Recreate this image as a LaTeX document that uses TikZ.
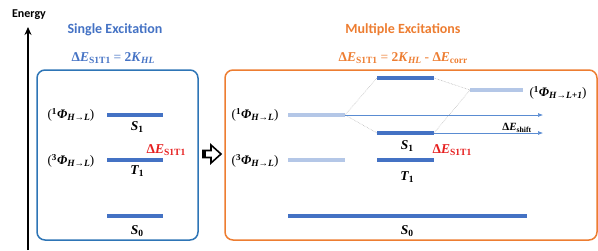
\documentclass[tikz,border=0pt]{standalone}
\usepackage{fontspec}
\setmainfont{Liberation Serif}
\newfontfamily\headfont{Carlito}
\usetikzlibrary{arrows.meta}

\definecolor{boxblue}{RGB}{46,117,182}
\definecolor{headblue}{RGB}{68,114,196}
\definecolor{orbblue}{RGB}{68,114,196}
\definecolor{pureblue}{RGB}{180,199,231}
\definecolor{boxorange}{RGB}{237,125,49}
\definecolor{gapred}{RGB}{230,30,30}
\definecolor{shiftblue}{RGB}{90,140,210}

\newcommand{\lowsub}[1]{\raisebox{-0.35ex}{\fontsize{9.5}{10}\selectfont #1}}
\newcommand{\dEn}[1]{\textbf{Δ\textit{E}\lowsub{#1}}}
\newcommand{\phiex}[2]{(\textsuperscript{\textbf{#1}}\textbf{\textit{Φ}\lowsub{\textit{#2}}})}
\newcommand{\stname}[2]{\textbf{\textit{#1}\lowsub{#2}}}

\begin{document}
\begin{tikzpicture}[
  x=1pt, y=-1pt,
  >=Latex,
  every node/.style={font=\fontsize{13}{15}\selectfont},
  heading/.style={font=\headfont\bfseries\fontsize{14}{16}\selectfont},
  panel/.style={line width=1.5pt, rounded corners=8pt},
  orbline/.style={line width=3.5pt, orbblue},
  pureline/.style={line width=3.5pt, pureblue},
  mixline/.style={densely dotted, line width=0.5pt, gray!70},
  shiftarrow/.style={-{Latex[length=5pt,width=4pt]}, line width=0.6pt, shiftblue},
  stlab/.style={font=\fontsize{13.5}{15}\selectfont},
  gap/.style={text=gapred, font=\fontsize{13.5}{15}\selectfont},
]
  \useasboundingbox (0,0) rectangle (598,250);

  % energy axis
  \node[font=\headfont\bfseries\fontsize{12}{14}\selectfont] (energy) at (29,15) {Energy};
  \coordinate (axisbase) at (28,250);
  \coordinate (axistop) at (28,27);
  \draw[line width=1.5pt, -{Stealth[length=8pt,width=7pt]}] (axisbase) -- (axistop);

  % single excitation panel
  \node[heading, text=headblue] (single) at (115,30) {Single Excitation};
  \node[text=headblue, font=\fontsize{13.5}{15}\selectfont] (singleeq) at (113,58)
    {\dEn{S1T1} = \textbf{2\textit{K}\lowsub{\textit{HL}}}};
  \draw[panel, boxblue] (37,70) rectangle (198,240);

  \draw[orbline] (107,115) -- (163,115);
  \draw[orbline] (107,160) -- (163,160);
  \draw[orbline] (107,216) -- (163,216);
  \node (singphi) at (71,115) {\phiex{1}{H→L}};
  \node (tripphi) at (71,161) {\phiex{3}{H→L}};
  \node[stlab] (sS1) at (137,127) {\stname{S}{1}};
  \node[stlab] (sT1) at (137,171) {\stname{T}{1}};
  \node[stlab] (sS0) at (137,231) {\stname{S}{0}};
  \node[gap] (sgap) at (166,150) {\dEn{S1T1}};

  % hollow block arrow
  \draw[line width=1.6pt, fill=white, line join=miter]
    (203,150.5) -- (211,150.5) -- (211,145) -- (221,154) -- (211,163)
    -- (211,157.5) -- (203,157.5) -- cycle;
  \fill (202,150) rectangle (206,158);

  % multiple excitations panel
  \node[heading, text=boxorange] (multi) at (403,30) {Multiple Excitations};
  \node[text=boxorange, font=\fontsize{13.5}{15}\selectfont] (multieq) at (403,58)
    {\dEn{S1T1} = \textbf{2\textit{K}\lowsub{\textit{HL}}} - \dEn{corr}};
  \draw[panel, boxorange] (225,70) rectangle (597,240);

  \coordinate (phiR) at (345,115);
  \coordinate (upL) at (377,78);
  \coordinate (upR) at (434,78);
  \coordinate (loL) at (377,133);
  \coordinate (loR) at (434,133);
  \coordinate (nextL) at (470,90);
  \coordinate (endA) at (543,115);
  \coordinate (endB) at (543,133);

  \draw[pureline] (288,115) -- (phiR);
  \draw[pureline] (288,160) -- (345,160);
  \draw[pureline] (nextL) -- (523,90);
  \draw[orbline] (upL) -- (upR);
  \draw[orbline] (loL) -- (loR);
  \draw[orbline] (377,160) -- (434,160);
  \draw[orbline] (288,216) -- (527,216);

  \draw[mixline] (phiR) -- (upL);
  \draw[mixline] (phiR) -- (loL);
  \draw[mixline] (upR) -- (nextL);
  \draw[mixline] (loR) -- (nextL);
  \draw[shiftarrow] (phiR) -- (endA);
  \draw[shiftarrow] (loR) -- (endB);

  \node (msing) at (255,115) {\phiex{1}{H→L}};
  \node (mtrip) at (255,161) {\phiex{3}{H→L}};
  \node (mnext) at (558,93) {\phiex{1}{H→L+1}};
  \node[font=\fontsize{11}{13}\selectfont] (shiftlab) at (517,128)
    {\textbf{Δ\textit{E}\textsubscript{shift}}};
  \node[stlab] (mS1) at (407,146) {\stname{S}{1}};
  \node[stlab] (mT1) at (407,177) {\stname{T}{1}};
  \node[stlab] (mS0) at (407,231) {\stname{S}{0}};
  \node[gap] (mgap) at (452,150) {\dEn{S1T1}};
\end{tikzpicture}
\end{document}
